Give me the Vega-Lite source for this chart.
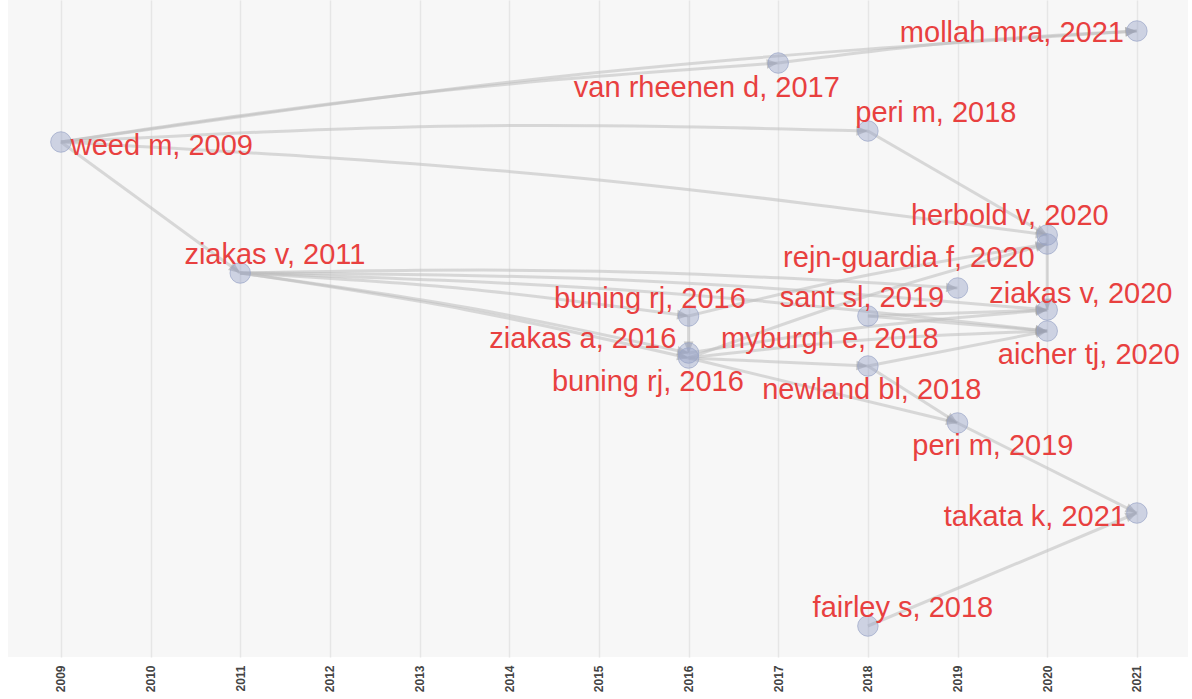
{
  "$schema": "https://vega.github.io/schema/vega-lite/v6.json",
  "width": 1180,
  "height": 657,
  "padding": {"left": 8, "top": 0, "right": 4, "bottom": 4},
  "background": "white",
  "view": {"fill": "#f7f7f7", "stroke": null},
  "datasets": {
    "nodes": [
      {"id": "W", "label": "weed m, 2009", "x": 2009, "y": 142, "lx": 2010.126, "ly": 146},
      {"id": "Z11", "label": "ziakas v, 2011", "x": 2011, "y": 273, "lx": 2011.387, "ly": 255},
      {"id": "VR", "label": "van rheenen d, 2017", "x": 2017, "y": 63, "lx": 2016.204, "ly": 88},
      {"id": "MO", "label": "mollah mra, 2021", "x": 2021, "y": 31, "lx": 2019.606, "ly": 33},
      {"id": "P18", "label": "peri m, 2018", "x": 2018, "y": 131, "lx": 2018.758, "ly": 113},
      {"id": "HE", "label": "herbold v, 2020", "x": 2020, "y": 235, "lx": 2019.583, "ly": 216},
      {"id": "RG", "label": "rejn-guardia f, 2020", "x": 2020, "y": 244, "lx": 2018.457, "ly": 258},
      {"id": "SA", "label": "sant sl, 2019", "x": 2019, "y": 288, "lx": 2017.933, "ly": 298},
      {"id": "Z20", "label": "ziakas v, 2020", "x": 2020, "y": 310, "lx": 2020.375, "ly": 294},
      {"id": "AI", "label": "aicher tj, 2020", "x": 2020, "y": 331, "lx": 2020.464, "ly": 355},
      {"id": "BT", "label": "buning rj, 2016", "x": 2016, "y": 316, "lx": 2015.569, "ly": 299},
      {"id": "ZA", "label": "ziakas a, 2016", "x": 2016, "y": 353, "lx": 2014.821, "ly": 339},
      {"id": "MY", "label": "myburgh e, 2018", "x": 2018, "y": 316, "lx": 2017.576, "ly": 339},
      {"id": "BB", "label": "buning rj, 2016", "x": 2016, "y": 358, "lx": 2015.546, "ly": 382},
      {"id": "NE", "label": "newland bl, 2018", "x": 2018, "y": 366, "lx": 2018.044, "ly": 390},
      {"id": "P19", "label": "peri m, 2019", "x": 2019, "y": 423, "lx": 2019.394, "ly": 446},
      {"id": "TA", "label": "takata k, 2021", "x": 2021, "y": 513, "lx": 2019.862, "ly": 517},
      {"id": "FA", "label": "fairley s, 2018", "x": 2018, "y": 626, "lx": 2018.39, "ly": 608}
    ],
    "edges": [
      {"e": "E1", "o": 0, "x": 2009, "y": 142}, {"e": "E1", "o": 1, "x": 2012.989, "y": 93.2}, {"e": "E1", "o": 2, "x": 2017, "y": 63},
      {"e": "E2", "o": 0, "x": 2009, "y": 142}, {"e": "E2", "o": 1, "x": 2014.984, "y": 72.5}, {"e": "E2", "o": 2, "x": 2021, "y": 31},
      {"e": "E3", "o": 0, "x": 2017, "y": 63}, {"e": "E3", "o": 1, "x": 2018.996, "y": 42.3}, {"e": "E3", "o": 2, "x": 2021, "y": 31},
      {"e": "E4", "o": 0, "x": 2009, "y": 142}, {"e": "E4", "o": 1, "x": 2013.499, "y": 126.0}, {"e": "E4", "o": 2, "x": 2018, "y": 131},
      {"e": "E5", "o": 0, "x": 2009, "y": 142}, {"e": "E5", "o": 1, "x": 2014.514, "y": 175.7}, {"e": "E5", "o": 2, "x": 2020, "y": 235},
      {"e": "E6", "o": 0, "x": 2009, "y": 142}, {"e": "E6", "o": 1, "x": 2011, "y": 273},
      {"e": "E7", "o": 0, "x": 2018, "y": 131}, {"e": "E7", "o": 1, "x": 2020, "y": 235},
      {"e": "E8", "o": 0, "x": 2011, "y": 273}, {"e": "E8", "o": 1, "x": 2015.002, "y": 271.2}, {"e": "E8", "o": 2, "x": 2019, "y": 288},
      {"e": "E9", "o": 0, "x": 2011, "y": 273}, {"e": "E9", "o": 1, "x": 2015.505, "y": 281.0}, {"e": "E9", "o": 2, "x": 2020, "y": 310},
      {"e": "E10", "o": 0, "x": 2011, "y": 273}, {"e": "E10", "o": 1, "x": 2015.508, "y": 291.5}, {"e": "E10", "o": 2, "x": 2020, "y": 331},
      {"e": "E11", "o": 0, "x": 2011, "y": 273}, {"e": "E11", "o": 1, "x": 2013.506, "y": 288.7}, {"e": "E11", "o": 2, "x": 2016, "y": 316},
      {"e": "E12", "o": 0, "x": 2011, "y": 273}, {"e": "E12", "o": 1, "x": 2013.511, "y": 307.2}, {"e": "E12", "o": 2, "x": 2016, "y": 353},
      {"e": "E13", "o": 0, "x": 2011, "y": 273}, {"e": "E13", "o": 1, "x": 2013.512, "y": 309.7}, {"e": "E13", "o": 2, "x": 2016, "y": 358},
      {"e": "E14", "o": 0, "x": 2016, "y": 316}, {"e": "E14", "o": 1, "x": 2017.99, "y": 275.3}, {"e": "E14", "o": 2, "x": 2020, "y": 244},
      {"e": "E15", "o": 0, "x": 2016, "y": 358}, {"e": "E15", "o": 1, "x": 2017.984, "y": 296.3}, {"e": "E15", "o": 2, "x": 2020, "y": 244},
      {"e": "E16", "o": 0, "x": 2016, "y": 353}, {"e": "E16", "o": 1, "x": 2017.994, "y": 326.8}, {"e": "E16", "o": 2, "x": 2020, "y": 310},
      {"e": "E17", "o": 0, "x": 2016, "y": 358}, {"e": "E17", "o": 1, "x": 2017.996, "y": 339.8}, {"e": "E17", "o": 2, "x": 2020, "y": 331},
      {"e": "E18", "o": 0, "x": 2016, "y": 358}, {"e": "E18", "o": 1, "x": 2018, "y": 366},
      {"e": "E19", "o": 0, "x": 2016, "y": 358}, {"e": "E19", "o": 1, "x": 2019, "y": 423},
      {"e": "E20", "o": 0, "x": 2018, "y": 316}, {"e": "E20", "o": 1, "x": 2020, "y": 310},
      {"e": "E21", "o": 0, "x": 2018, "y": 316}, {"e": "E21", "o": 1, "x": 2020, "y": 331},
      {"e": "E22", "o": 0, "x": 2018, "y": 366}, {"e": "E22", "o": 1, "x": 2020, "y": 331},
      {"e": "E23", "o": 0, "x": 2018, "y": 366}, {"e": "E23", "o": 1, "x": 2019, "y": 423},
      {"e": "E24", "o": 0, "x": 2020, "y": 235}, {"e": "E24", "o": 1, "x": 2020, "y": 310},
      {"e": "E25", "o": 0, "x": 2019, "y": 423}, {"e": "E25", "o": 1, "x": 2021, "y": 513},
      {"e": "E26", "o": 0, "x": 2018, "y": 626}, {"e": "E26", "o": 1, "x": 2021, "y": 513},
      {"e": "E27", "o": 0, "x": 2016, "y": 316}, {"e": "E27", "o": 1, "x": 2016, "y": 353}
    ]
  },
  "encoding": {
    "x": {
      "field": "x", "type": "quantitative",
      "scale": {"domain": [2008.41, 2021.57], "nice": false, "zero": false},
      "axis": {
        "title": null, "values": [2009, 2010, 2011, 2012, 2013, 2014, 2015, 2016, 2017, 2018, 2019, 2020, 2021],
        "format": "d", "grid": true, "gridColor": "#e6e6e6", "gridWidth": 1.5,
        "domain": false, "ticks": false, "labelAngle": 270, "labelPadding": 8,
        "labelFont": "Liberation Sans", "labelFontSize": 12, "labelFontWeight": "bold", "labelColor": "#444444"
      }
    },
    "y": {
      "field": "y", "type": "quantitative",
      "scale": {"domain": [0, 657], "reverse": true, "nice": false, "zero": false},
      "axis": null
    }
  },
  "layer": [
    {
      "data": {"name": "edges"},
      "mark": {"type": "line", "interpolate": "natural", "stroke": "#bdbdbd", "strokeOpacity": 0.55, "strokeWidth": 3},
      "encoding": {
        "detail": {"field": "e", "type": "nominal"},
        "order": {"field": "o", "type": "quantitative"}
      }
    },
    {
      "data": {"name": "edges"},
      "transform": [
        {"window": [{"op": "lag", "field": "x", "as": "px"}, {"op": "lag", "field": "y", "as": "py"}], "groupby": ["e"], "sort": [{"field": "o"}]},
        {"joinaggregate": [{"op": "max", "field": "o", "as": "mo"}], "groupby": ["e"]},
        {"filter": "datum.o == datum.mo"},
        {"calculate": "atan2(datum.y - datum.py, (datum.x - datum.px) * 89.666) * 180 / PI", "as": "ang"}
      ],
      "mark": {"type": "point", "shape": "M-1,-0.42L0,0L-1,0.42Z", "filled": true, "fill": "#a0a0a0", "fillOpacity": 0.55, "strokeWidth": 0, "size": 529},
      "encoding": {
        "angle": {"field": "ang", "type": "quantitative", "scale": null}
      }
    },
    {
      "data": {"name": "nodes"},
      "mark": {"type": "point", "shape": "circle", "filled": true, "fill": "#9aa5c8", "fillOpacity": 0.45, "stroke": "#9aa5c8", "strokeOpacity": 0.7, "strokeWidth": 1, "size": 420}
    },
    {
      "data": {"name": "nodes"},
      "mark": {"type": "text", "font": "Liberation Sans", "fontSize": 29, "fill": "#e8403f", "align": "center", "baseline": "middle"},
      "encoding": {
        "x": {"field": "lx", "type": "quantitative"},
        "y": {"field": "ly", "type": "quantitative"},
        "text": {"field": "label", "type": "nominal"}
      }
    }
  ]
}
